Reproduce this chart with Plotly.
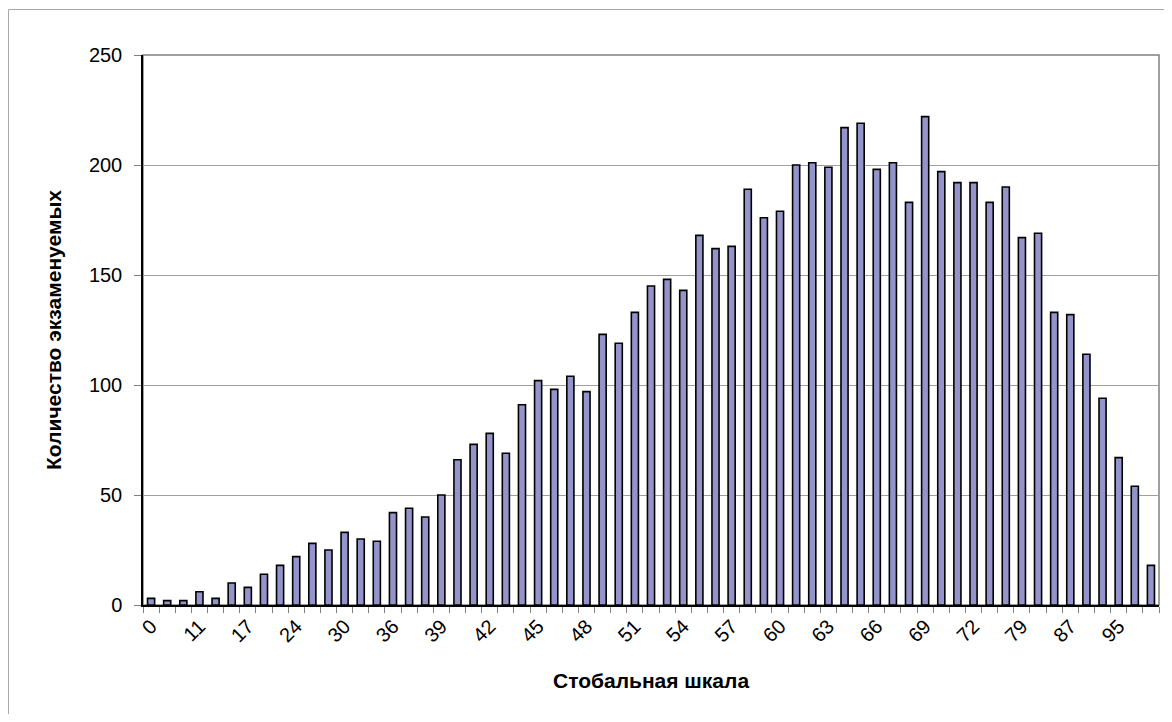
import plotly.graph_objects as go

# Стобальная шкала (score on 100-point scale) — only every 3rd one is labelled on the chart
scores = [
    "0", "4", "7", "11", "13", "15", "17", "20", "22", "24", "26", "28",
    "30", "32", "34", "36", "37", "38", "39", "40", "41", "42", "43", "44",
    "45", "46", "47", "48", "49", "50", "51", "52", "53", "54", "55", "56",
    "57", "58", "59", "60", "61", "62", "63", "64", "65", "66", "67", "68",
    "69", "70", "71", "72", "74", "77", "79", "82", "84", "87", "90", "92",
    "95", "97", "100",
]
# Количество экзаменуемых
counts = [
    3, 2, 2, 6, 3, 10, 8, 14, 18, 22, 28, 25,
    33, 30, 29, 42, 44, 40, 50, 66, 73, 78, 69, 91,
    102, 98, 104, 97, 123, 119, 133, 145, 148, 143, 168, 162,
    163, 189, 176, 179, 200, 201, 199, 217, 219, 198, 201, 183,
    222, 197, 192, 192, 183, 190, 167, 169, 133, 132, 114, 94,
    67, 54, 18,
]
tick_text = [s if i % 3 == 0 else "" for i, s in enumerate(scores)]

FONT = "Liberation Sans, Arial, sans-serif"

fig = go.Figure(go.Bar(
    x=scores, y=counts, width=0.44,
    marker=dict(color="#9494CB", line=dict(color="#000000", width=1.6)),
    hoverinfo="x+y",
))

fig.update_xaxes(
    type="category", tickmode="array", tickvals=scores, ticktext=tick_text,
    tickson="boundaries", ticks="outside", ticklen=6, tickcolor="#808080",
    tickangle=-45, tickfont=dict(family=FONT, size=20, color="#000"),
    showline=True, linecolor="#000", linewidth=1.5, showgrid=False,
)
fig.update_yaxes(
    range=[0, 250], dtick=50, ticks="outside", ticklen=7, tickcolor="#808080",
    tickfont=dict(family=FONT, size=20, color="#000"), ticklabelstandoff=8,
    showline=True, linecolor="#000", linewidth=1.5,
    showgrid=True, gridcolor="#a0a0a0", gridwidth=1, zeroline=False,
)

# the page body keeps its default 8px margin, so the figure is sized to fit inside it
fig.update_layout(
    width=1164, height=706,
    margin=dict(l=135, r=13, t=47, b=109),
    paper_bgcolor="white", plot_bgcolor="white",
    showlegend=False, bargap=0.56,
    font=dict(family=FONT, color="#000"),
    shapes=[
        # plot area frame
        dict(type="rect", xref="paper", yref="paper", x0=0, x1=1, y0=0, y1=1,
             line=dict(color="#808080", width=1.5), layer="below"),
        # chart area frame (only left and top edges fall inside the picture)
        dict(type="rect", xref="paper", yref="paper", x0=-0.1324, x1=1.05,
             y0=-0.3, y1=1.0827, line=dict(color="#a8a8a8", width=1)),
    ],
    annotations=[
        dict(text="<b>Количество экзаменуемых</b>", xref="paper", yref="paper",
             x=-0.0886, y=0.5, textangle=-90, showarrow=False,
             xanchor="center", yanchor="middle", font=dict(family=FONT, size=21)),
        dict(text="<b>Стобальная шкала</b>", xref="paper", yref="paper",
             x=0.5, y=-0.138, showarrow=False,
             xanchor="center", yanchor="middle", font=dict(family=FONT, size=21)),
    ],
)

fig.write_html("out.html")
